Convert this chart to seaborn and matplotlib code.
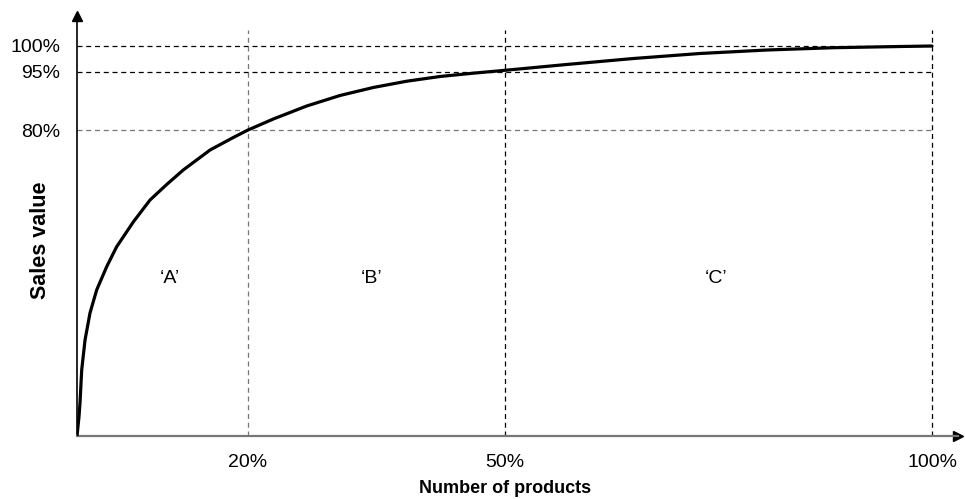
import numpy as np
import pandas as pd
import matplotlib
matplotlib.use("Agg")
import matplotlib.pyplot as plt
import seaborn as sns

# cumulative curve (x = % of products, y = axis units)
pct_products = [0, 0.23, 0.35, 0.55, 0.94, 1.52, 2.30, 3.47, 4.64, 6.58,
                8.54, 10.49, 12.43, 15.56, 18.28, 20.0, 22.96, 26.87, 30.76,
                34.65, 38.56, 42.46, 46.35, 50.06, 57.27, 65.06, 72.87,
                80.67, 88.46, 96.26, 100.0]
sales_value = [0, 4.87, 8.46, 16.92, 24.62, 31.54, 37.44, 43.41, 48.54, 54.87,
               60.51, 64.49, 68.21, 73.33, 76.54, 78.46, 81.28, 84.62, 87.31,
               89.36, 90.97, 92.18, 93.03, 93.77, 95.26, 96.79, 98.08,
               98.97, 99.56, 99.87, 100.0]

x_ticks = [20, 50, 100]
x_labels = ['20%', '50%', '100%']
y_ticks = [78.46, 93.46, 100]
y_labels = ['80%', '95%', '100%']
zones = ['\u2018A\u2019', '\u2018B\u2019', '\u2018C\u2019']
zone_x = [10.9, 34.5, 74.8]

sns.set_style("white")
plt.rcParams['font.family'] = ['Liberation Sans', 'DejaVu Sans']
plt.rcParams['text.color'] = 'black'
plt.rcParams['axes.labelcolor'] = 'black'
plt.rcParams['xtick.color'] = 'black'
plt.rcParams['ytick.color'] = 'black'

fig = plt.figure(figsize=(9.65, 4.99), dpi=100)
# axis box: origin at (77, 436) px, 8.55 px per x unit, 3.9 px per y unit
ax = fig.add_axes([77 / 965, 63 / 499, 881 / 965, 420 / 499])

df = pd.DataFrame({'x': pct_products, 'y': sales_value})
sns.lineplot(data=df, x='x', y='y', color='black', lw=2.3, ax=ax, zorder=5)

# dashed reference lines
grey = '#777777'
for yv, c in zip(y_ticks, [grey, 'black', 'black']):
    ax.plot([0, 100], [yv, yv], ls=(0, (4, 3)), color=c, lw=0.9, zorder=2)
for xv, c in zip(x_ticks, [grey, 'black', 'black']):
    ax.plot([xv, xv], [0, 104.1], ls=(0, (4, 3)), color=c, lw=0.9, zorder=2)

for lab, xv in zip(zones, zone_x):
    ax.text(xv, 40.5, lab, ha='center', va='center', fontsize=14)

ax.set_xlim(0, 881 / 8.55)
ax.set_ylim(0, 420 / 3.9)
ax.set_xticks(x_ticks)
ax.set_xticklabels(x_labels, fontsize=14)
ax.set_yticks(y_ticks)
ax.set_yticklabels(y_labels, fontsize=14)
ax.tick_params(axis='both', length=0)
ax.tick_params(axis='x', pad=13)
ax.tick_params(axis='y', pad=12)

ax.set_xlabel('Number of products', fontsize=13, fontweight='bold')
ax.xaxis.set_label_coords(428 / 881, -44 / 420)
ax.set_ylabel('Sales value', fontsize=15.5, fontweight='bold', va='center')
ax.yaxis.set_label_coords(-37 / 881, 196 / 420)

for s in ['top', 'right']:
    ax.spines[s].set_visible(False)
ax.spines['bottom'].set_color(grey)
ax.spines['bottom'].set_linewidth(1.6)
ax.spines['left'].set_color('black')
ax.spines['left'].set_linewidth(1.2)
ax.plot(1, 0, '>k', ms=7, transform=ax.get_yaxis_transform(), clip_on=False)
ax.plot(0, 1, '^k', ms=7, transform=ax.get_xaxis_transform(), clip_on=False)

fig.savefig('out.png', dpi=100)
